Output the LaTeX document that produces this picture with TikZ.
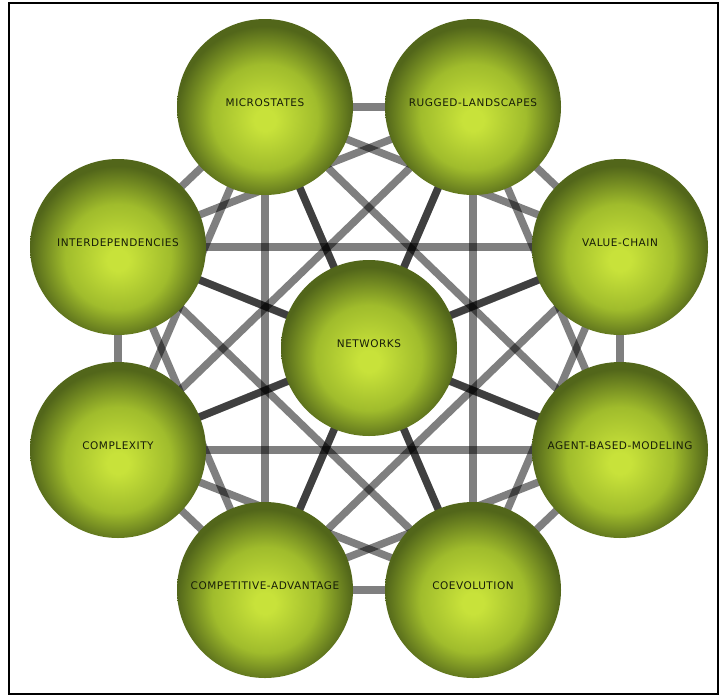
\documentclass[tikz,border=0pt]{standalone}
\usepackage{fontspec}
\usepackage{xcolor}
\usepackage{tikz}
\usetikzlibrary{backgrounds}
\newfontfamily\lblfont[LetterSpace=5]{DejaVu Sans}

\definecolor{ballin}{RGB}{200,226,58}
\definecolor{ballmid}{RGB}{160,188,44}
\definecolor{ballout}{RGB}{82,102,26}
\definecolor{lbltext}{RGB}{24,30,8}
\pgfdeclareradialshading{ball}{\pgfpoint{0bp}{-4bp}}{color(0bp)=(ballin); color(3bp)=(ballin); color(15bp)=(ballmid); color(25bp)=(ballout); color(50bp)=(ballout)}

\tikzset{
  topic/.style={circle,minimum size=176pt,inner sep=0pt,shading=ball,text=lbltext,
    font=\lblfont\fontsize{10.5}{12}\selectfont,text depth=8pt},
  link/.style={line width=7.5pt,black,opacity=0.5},
}

\begin{document}
\begin{tikzpicture}[x=1pt,y=-1pt]
  \useasboundingbox (0,0) rectangle (720,697);
  \draw[line width=1.8pt] (9,3) rectangle (718,694);

  \node[topic] at (369,348) (nw){NETWORKS};
  \node[topic] at (265,107) (ms){MICROSTATES};
  \node[topic] at ([xshift=208]ms) (rl){RUGGED-LANDSCAPES};
  \node[topic] at (620,247) (vc){VALUE-CHAIN};
  \node[topic] at ([yshift=-203]vc) (abm){AGENT-BASED-MODELING};
  \node[topic] at (473,590) (co){COEVOLUTION};
  \node[topic] at ([xshift=-208]co) (ca){COMPETITIVE-ADVANTAGE};
  \node[topic] at (118,450) (cx){COMPLEXITY};
  \node[topic] at ([yshift=203]cx) (id){INTERDEPENDENCIES};

  \begin{scope}[on background layer]
  % spokes to the hub
  \draw[link] (nw.center) -- (ms.center);
  \draw[link] (nw.center) -- (rl.center);
  \draw[link] (nw.center) -- (vc.center);
  \draw[link] (nw.center) -- (abm.center);
  \draw[link] (nw.center) -- (co.center);
  \draw[link] (nw.center) -- (ca.center);
  \draw[link] (nw.center) -- (cx.center);
  \draw[link] (nw.center) -- (id.center);

  % ring
  \draw[link] (ms.center) -- (rl.center);
  \draw[link] (ms.center) -- (vc.center);
  \draw[link] (ms.center) -- (abm.center);
  \draw[link] (ms.center) -- (co.center);
  \draw[link] (ms.center) -- (ca.center);
  \draw[link] (ms.center) -- (cx.center);
  \draw[link] (ms.center) -- (id.center);
  \draw[link] (rl.center) -- (vc.center);
  \draw[link] (rl.center) -- (abm.center);
  \draw[link] (rl.center) -- (co.center);
  \draw[link] (rl.center) -- (ca.center);
  \draw[link] (rl.center) -- (cx.center);
  \draw[link] (rl.center) -- (id.center);
  \draw[link] (vc.center) -- (abm.center);
  \draw[link] (vc.center) -- (co.center);
  \draw[link] (vc.center) -- (ca.center);
  \draw[link] (vc.center) -- (cx.center);
  \draw[link] (vc.center) -- (id.center);
  \draw[link] (abm.center) -- (co.center);
  \draw[link] (abm.center) -- (ca.center);
  \draw[link] (abm.center) -- (cx.center);
  \draw[link] (abm.center) -- (id.center);
  \draw[link] (co.center) -- (ca.center);
  \draw[link] (co.center) -- (cx.center);
  \draw[link] (co.center) -- (id.center);
  \draw[link] (ca.center) -- (cx.center);
  \draw[link] (ca.center) -- (id.center);
  \draw[link] (cx.center) -- (id.center);
  \end{scope}

\end{tikzpicture}
\end{document}
